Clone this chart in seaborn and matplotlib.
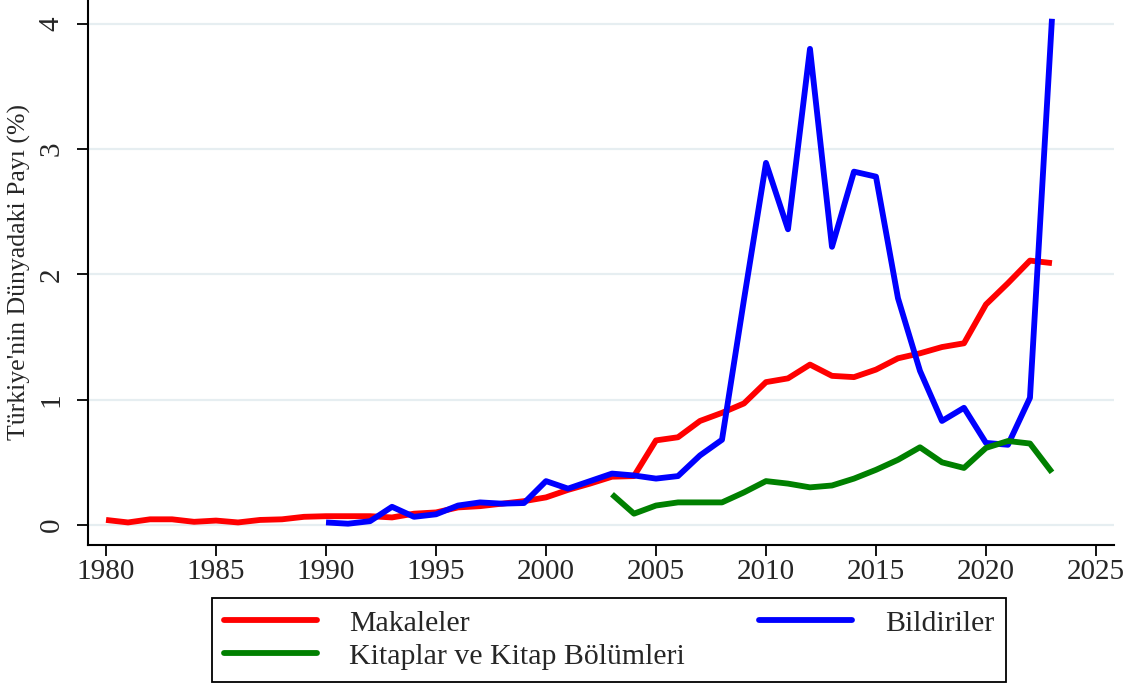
import numpy as np
import pandas as pd
import seaborn as sns
import matplotlib.pyplot as plt

# Türkiye'nin dünyadaki payı (%), yıllara göre
yil_mak = list(range(1980, 2024))
makaleler = [0.04, 0.02, 0.045, 0.045, 0.025, 0.035, 0.02, 0.04, 0.045, 0.065,
             0.07, 0.07, 0.07, 0.06, 0.09, 0.10, 0.14, 0.15, 0.17, 0.19,
             0.22, 0.28, 0.33, 0.385, 0.39, 0.675, 0.70, 0.83, 0.895, 0.97,
             1.14, 1.17, 1.28, 1.19, 1.18, 1.24, 1.33, 1.37, 1.42, 1.45,
             1.76, 1.93, 2.11, 2.09]

yil_bil = list(range(1990, 2024))
bildiriler = [0.02, 0.01, 0.03, 0.145, 0.065, 0.085, 0.155, 0.18, 0.17, 0.175,
              0.35, 0.29, 0.35, 0.41, 0.395, 0.37, 0.39, 0.555, 0.68, 1.80,
              2.89, 2.36, 3.80, 2.22, 2.82, 2.78, 1.81, 1.23, 0.83, 0.935,
              0.655, 0.64, 1.015, 4.04]

yil_kit = list(range(2003, 2024))
kitaplar = [0.245, 0.09, 0.155, 0.18, 0.18, 0.18, 0.26, 0.35, 0.33, 0.30,
            0.315, 0.37, 0.44, 0.52, 0.62, 0.50, 0.455, 0.615, 0.67, 0.65, 0.42]

etiketler = ["Makaleler", "Bildiriler", "Kitaplar ve Kitap Bölümleri"]
renkler = ["#ff0000", "#0000ff", "#008000"]

df = pd.concat([
    pd.DataFrame({"yil": yil_mak, "pay": makaleler, "tur": etiketler[0]}),
    pd.DataFrame({"yil": yil_bil, "pay": bildiriler, "tur": etiketler[1]}),
    pd.DataFrame({"yil": yil_kit, "pay": kitaplar, "tur": etiketler[2]}),
])

sns.set_style("white")
plt.rcParams['font.family'] = ['Liberation Serif', 'DejaVu Serif']

fig = plt.figure(figsize=(11.37, 6.86), dpi=100)
ax = fig.add_axes([88/1137, 1 - 545/686, (1114 - 88)/1137, 545/686])

lw = 4.2
sns.lineplot(data=df, x="yil", y="pay", hue="tur", hue_order=etiketler,
             palette=dict(zip(etiketler, renkler)), linewidth=lw,
             legend=False, ax=ax, solid_capstyle="butt")

ax.set_xlim(1979.18, 2025.82)
ax.set_ylim(-0.16, 4.19)
ax.set_xticks([1980, 1985, 1990, 1995, 2000, 2005, 2010, 2015, 2020, 2025])
ax.set_yticks([0, 1, 2, 3, 4])
ax.yaxis.grid(True, color="#e6eef1", linewidth=1.6)
ax.xaxis.grid(False)
for s in ["top", "right"]:
    ax.spines[s].set_visible(False)
for s in ["left", "bottom"]:
    ax.spines[s].set_color("black")
    ax.spines[s].set_linewidth(1.5)

ax.tick_params(axis="both", direction="out", length=8, width=1.3,
               color="black", labelsize=21, left=True, bottom=True)
ax.tick_params(axis="x", pad=2)
ax.tick_params(axis="y", pad=9, labelrotation=90)
for t in ax.get_yticklabels():
    t.set_va("center")

ax.set_xlabel("")
ax.set_ylabel("Türkiye'nin Dünyadaki Payı (%)", fontsize=18.5, labelpad=5)

handles = [plt.Line2D([], [], color=r, linewidth=lw) for r in renkler]
sira = [0, 2, 1]
leg = fig.legend([handles[i] for i in sira], [etiketler[i] for i in sira],
                 loc="upper left",
                 bbox_to_anchor=(212/1137, 1 - 683/686, (1006 - 212)/1137, 85/686),
                 mode="expand", ncol=2, fontsize=21.5, frameon=True,
                 fancybox=False, edgecolor="black", framealpha=1,
                 handlelength=3.1, handletextpad=1.1, borderpad=0.4,
                 labelspacing=0.2, borderaxespad=0)
leg.get_frame().set_linewidth(1.3)

fig.savefig("out.png", dpi=100)
